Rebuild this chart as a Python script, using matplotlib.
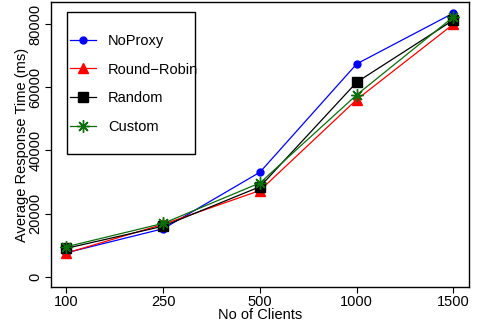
import matplotlib
matplotlib.use("Agg")
from matplotlib import pyplot as plt
from matplotlib.patches import Rectangle

plt.rcParams['font.family'] = ['Liberation Sans', 'DejaVu Sans']

clients = ["100", "250", "500", "1000", "1500"]
noproxy = [7600, 15200, 33100, 67400, 83500]
round_robin = [7500, 16600, 27300, 56100, 80000]
random_lb = [9000, 16000, 28500, 61600, 81300]
custom = [9500, 16900, 29700, 57600, 82300]

series = [
    ("NoProxy", noproxy, "blue", "o", 5),
    ("Round\u2212Robin", round_robin, "red", "^", 7.5),
    ("Random", random_lb, "black", "s", 6.5),
    ("Custom", custom, "#0a6e0a", (8, 2, 0), 9),
]

fig = plt.figure(figsize=(4.79, 3.27), dpi=100)
ax = fig.add_axes([0.1065, 0.1223, 0.8725, 0.8716])

x = range(len(clients))
for name, vals, col, mk, ms in series:
    ax.plot(x, vals, color=col, lw=0.9, marker=mk, ms=ms,
            markeredgewidth=1.0, markeredgecolor=col, label=name)

ax.set_xlim(-0.16, 4.16)
ax.set_ylim(-3260, 87000)
ax.set_xticks(list(x))
ax.set_xticklabels(clients)
ax.set_yticks([0, 20000, 40000, 60000, 80000])
ax.set_yticklabels(["0", "20000", "40000", "60000", "80000"],
                   rotation=90, va="center")
ax.tick_params(labelsize=10.5, length=4, width=0.8, direction="out", pad=2)
for s in ax.spines.values():
    s.set_linewidth(1.0)

ax.set_xlabel("No of Clients", fontsize=10.5, labelpad=-1)
ax.set_ylabel("Average Response Time (ms)", fontsize=10.5, labelpad=0)

# legend frame drawn by hand, entries are left unframed
ax.add_patch(Rectangle((0.038, 0.467), 0.3065, 0.497, transform=ax.transAxes,
                       fill=False, lw=1.0, ec="black", zorder=5))
ax.legend(loc="upper left", bbox_to_anchor=(0.045, 0.889), frameon=False,
          fontsize=10.5, borderpad=0, borderaxespad=0, handlelength=1.8,
          handletextpad=0.82, labelspacing=1.02)

fig.savefig("out.png", dpi=100)
